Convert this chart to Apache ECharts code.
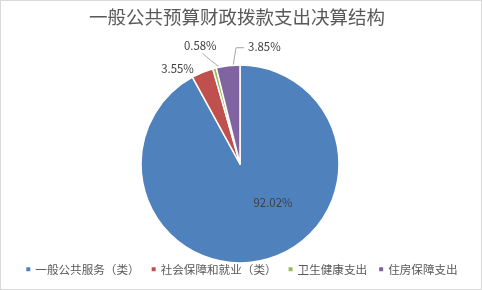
<!DOCTYPE html>
<html><head><meta charset="utf-8">
<script src="https://cdn.jsdelivr.net/npm/echarts@6/dist/echarts.min.js"></script>
<style>html,body{margin:0;padding:0;background:#fff;}#c{width:480px;height:288px;border:1px solid #d9d9d9;}</style>
</head><body><div id="c"></div>
<script>
var title = '一般公共预算财政拨款支出决算结构';
var categories = ['一般公共服务（类）', '社会保障和就业（类）', '卫生健康支出', '住房保障支出'];
var values = [92.02, 3.55, 0.58, 3.85];
var colors = ['#4F81BD', '#C0504D', '#9BBB59', '#8064A2'];
var font = '"Microsoft YaHei","Noto Sans CJK SC",sans-serif';
var chart = echarts.init(document.getElementById('c'));
var data = categories.map(function (n, i) { return { name: n, value: values[i] }; });
data[0].label = { position: 'inside', offset: [20, -12] };
data[1].labelLine = { show: false, length: 4, length2: 2 };
chart.setOption({
  animation: false,
  color: colors,
  title: { text: title, left: 83, top: 2, textStyle: { fontFamily: font, fontSize: 18.5, fontWeight: 'normal', color: '#595959' } },
  legend: { bottom: 9, left: 'center', itemWidth: 6, itemHeight: 6, itemGap: 10, icon: 'rect',
    textStyle: { fontFamily: font, fontSize: 11.6, color: '#595959', padding: [0, 0, 0, -1] } },
  series: [{
    type: 'pie', center: [239, 163], radius: 99, startAngle: 90, clockwise: true,
    avoidLabelOverlap: false,
    itemStyle: { borderColor: '#fff', borderWidth: 1.5 },
    label: { formatter: function (p) { return p.value.toFixed(2) + '%'; }, fontFamily: font, fontSize: 11.4, color: '#404040' },
    labelLine: { length: 10, length2: 4, lineStyle: { color: '#a6a6a6', width: 1 } },
    labelLayout: function (p) {
      var pts = p.labelLinePoints;
      if (!pts) return {};
      var a = pts[0];
      if (p.dataIndex === 3) {
        return { x: a[0] + 20, y: a[1] - 19, align: 'left', verticalAlign: 'middle',
          labelLinePoints: [[a[0] + 5, a[1]], [a[0] + 8, a[1] - 18], [a[0] + 16, a[1] - 18]] };
      }
      if (p.dataIndex === 2) {
        return { x: a[0] + 2, y: a[1] - 23, align: 'right', verticalAlign: 'middle',
          labelLinePoints: [[a[0] + 4, a[1] - 2], [a[0] - 4, a[1] - 8], [a[0] - 12, a[1] - 15]] };
      }
      return {};
    },
    data: data
  }]
});
</script></body></html>
